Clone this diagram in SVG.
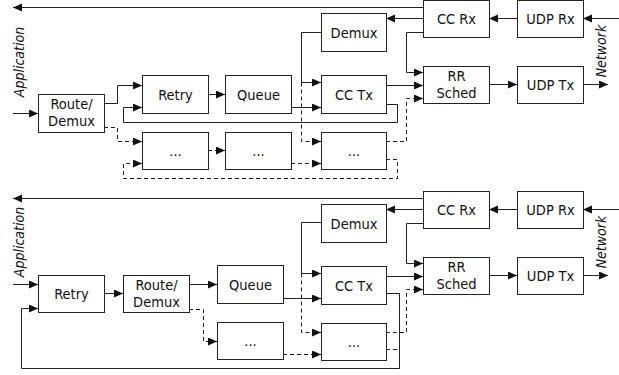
<svg xmlns="http://www.w3.org/2000/svg" width="619" height="375" viewBox="0 0 619 375">
<style>
.b{fill:#fff;stroke:#222;stroke-width:1}
.t{font-family:"DejaVu Sans Condensed","DejaVu Sans",sans-serif;font-size:14.5px;fill:#111;text-anchor:middle}
.i{font-style:italic;font-size:14px}
.c{fill:none;stroke:#222;stroke-width:1}
.d{stroke-dasharray:4 3}
.a{marker-end:url(#ah)}
</style>
<defs>
<marker id="ah" markerUnits="userSpaceOnUse" markerWidth="10" markerHeight="10" refX="9" refY="4" orient="auto">
<path d="M0,0 L9,4 L0,8 z" fill="#111"/>
</marker>
</defs>
<rect width="619" height="375" fill="#fff"/>

<g id="connectors">
<!-- top diagram -->
<path class="c a" d="M423,7.5 H13"/>
<path class="c a" d="M619,18.5 H583"/>
<path class="c a" d="M517,18.5 H489"/>
<path class="c a" d="M423,18.5 H386"/>
<path class="c a" d="M423,32.5 H406.5 V72.5 H423"/>
<path class="c a" d="M386,85.5 H423"/>
<path class="c a" d="M489,84.5 H517"/>
<path class="c a" d="M583,84.5 H608"/>
<path class="c a" d="M321,32.5 H301.5 V82.5 H321"/>
<path class="c d a" d="M301.5,82.5 V141.5 H321"/>
<path class="c d a" d="M386,141.5 H406.5 V98.5 H423"/>
<path class="c a" d="M386,104.5 H397.5 V122.5 H123.5 V107.5 H142"/>
<path class="c d a" d="M386,159.5 H397.5 V178.5 H123.5 V163.5 H142"/>
<path class="c a" d="M13,113.5 H38"/>
<path class="c a" d="M104,103.5 H117.5 V85.5 H142"/>
<path class="c d a" d="M104,127.5 H117.5 V141.5 H142"/>
<path class="c a" d="M208,94.5 H225"/>
<path class="c d a" d="M208,150.5 H225"/>
<path class="c a" d="M291,107.5 H321"/>
<path class="c d a" d="M291,163.5 H321"/>
<!-- bottom diagram -->
<path class="c a" d="M423,198.5 H13"/>
<path class="c a" d="M619,209.5 H583"/>
<path class="c a" d="M517,209.5 H489"/>
<path class="c a" d="M423,209.5 H386"/>
<path class="c a" d="M423,223.5 H406.5 V263.5 H423"/>
<path class="c a" d="M386,276.5 H423"/>
<path class="c a" d="M489,275.5 H517"/>
<path class="c a" d="M583,275.5 H608"/>
<path class="c a" d="M321,222.5 H301.5 V273.5 H321"/>
<path class="c d a" d="M301.5,273.5 V332.5 H321"/>
<path class="c d a" d="M386,332.5 H406.5 V289.5 H423"/>
<path class="c a" d="M386,293.5 H399.5 V368.5 H21.5 V308.5 H38"/>
<path class="c d" d="M386,349.5 H399.5"/>
<path class="c a" d="M13,284.5 H38"/>
<path class="c a" d="M104,293.5 H123"/>
<path class="c a" d="M189,284.5 H217"/>
<path class="c d a" d="M189,309.5 H203.5 V341.5 H217"/>
<path class="c a" d="M283,298.5 H321"/>
<path class="c d a" d="M283,354.5 H321"/>
</g>

<!-- labels -->
<text class="t i" transform="translate(24,62) rotate(-90)">Application</text>
<text class="t i" transform="translate(606,51) rotate(-90)">Network</text>
<text class="t i" transform="translate(24,242) rotate(-90)">Application</text>
<text class="t i" transform="translate(606,242) rotate(-90)">Network</text>

<!-- top nodes -->
<g id="t-ccrx"><rect class="b" x="423.5" y="0.5" width="66" height="37"/><text class="t" x="456.5" y="24">CC Rx</text></g>
<g id="t-udprx"><rect class="b" x="517.5" y="0.5" width="66" height="37"/><text class="t" x="550.5" y="24">UDP Rx</text></g>
<g id="t-demux"><rect class="b" x="321.5" y="13.5" width="65" height="38"/><text class="t" x="354" y="37.5">Demux</text></g>
<g id="t-rrsched"><rect class="b" x="423.5" y="66.5" width="66" height="37"/><text class="t" x="456.5" y="81">RR</text><text class="t" x="456.5" y="97.5">Sched</text></g>
<g id="t-udptx"><rect class="b" x="517.5" y="66.5" width="66" height="37"/><text class="t" x="550.5" y="90">UDP Tx</text></g>
<g id="t-cctx"><rect class="b" x="321.5" y="75.5" width="65" height="38"/><text class="t" x="354" y="99.5">CC Tx</text></g>
<g id="t-dots3"><rect class="b" x="321.5" y="132.5" width="65" height="37"/><text class="t" x="354" y="156">...</text></g>
<g id="t-route"><rect class="b" x="38.5" y="94.5" width="66" height="38"/><text class="t" x="71.5" y="109">Route/</text><text class="t" x="71.5" y="125.5">Demux</text></g>
<g id="t-retry"><rect class="b" x="142.5" y="75.5" width="66" height="38"/><text class="t" x="175.5" y="99.5">Retry</text></g>
<g id="t-queue"><rect class="b" x="225.5" y="75.5" width="66" height="38"/><text class="t" x="258.5" y="99.5">Queue</text></g>
<g id="t-dots1"><rect class="b" x="142.5" y="132.5" width="66" height="37"/><text class="t" x="175.5" y="156">...</text></g>
<g id="t-dots2"><rect class="b" x="225.5" y="132.5" width="66" height="37"/><text class="t" x="258.5" y="156">...</text></g>

<!-- bottom nodes -->
<g id="b-ccrx"><rect class="b" x="423.5" y="191.5" width="66" height="37"/><text class="t" x="456.5" y="215">CC Rx</text></g>
<g id="b-udprx"><rect class="b" x="517.5" y="191.5" width="66" height="37"/><text class="t" x="550.5" y="215">UDP Rx</text></g>
<g id="b-demux"><rect class="b" x="321.5" y="204.5" width="65" height="38"/><text class="t" x="354" y="228.5">Demux</text></g>
<g id="b-rrsched"><rect class="b" x="423.5" y="257.5" width="66" height="37"/><text class="t" x="456.5" y="272">RR</text><text class="t" x="456.5" y="288.5">Sched</text></g>
<g id="b-udptx"><rect class="b" x="517.5" y="257.5" width="66" height="37"/><text class="t" x="550.5" y="281">UDP Tx</text></g>
<g id="b-cctx"><rect class="b" x="321.5" y="266.5" width="65" height="38"/><text class="t" x="354" y="290.5">CC Tx</text></g>
<g id="b-dots3"><rect class="b" x="321.5" y="323.5" width="65" height="37"/><text class="t" x="354" y="347">...</text></g>
<g id="b-retry"><rect class="b" x="38.5" y="275.5" width="66" height="37"/><text class="t" x="71.5" y="299">Retry</text></g>
<g id="b-route"><rect class="b" x="123.5" y="275.5" width="66" height="37"/><text class="t" x="156.5" y="290">Route/</text><text class="t" x="156.5" y="306.5">Demux</text></g>
<g id="b-queue"><rect class="b" x="217.5" y="265.5" width="66" height="38"/><text class="t" x="250.5" y="289.5">Queue</text></g>
<g id="b-dots1"><rect class="b" x="217.5" y="322.5" width="66" height="37"/><text class="t" x="250.5" y="346">...</text></g>
</svg>
